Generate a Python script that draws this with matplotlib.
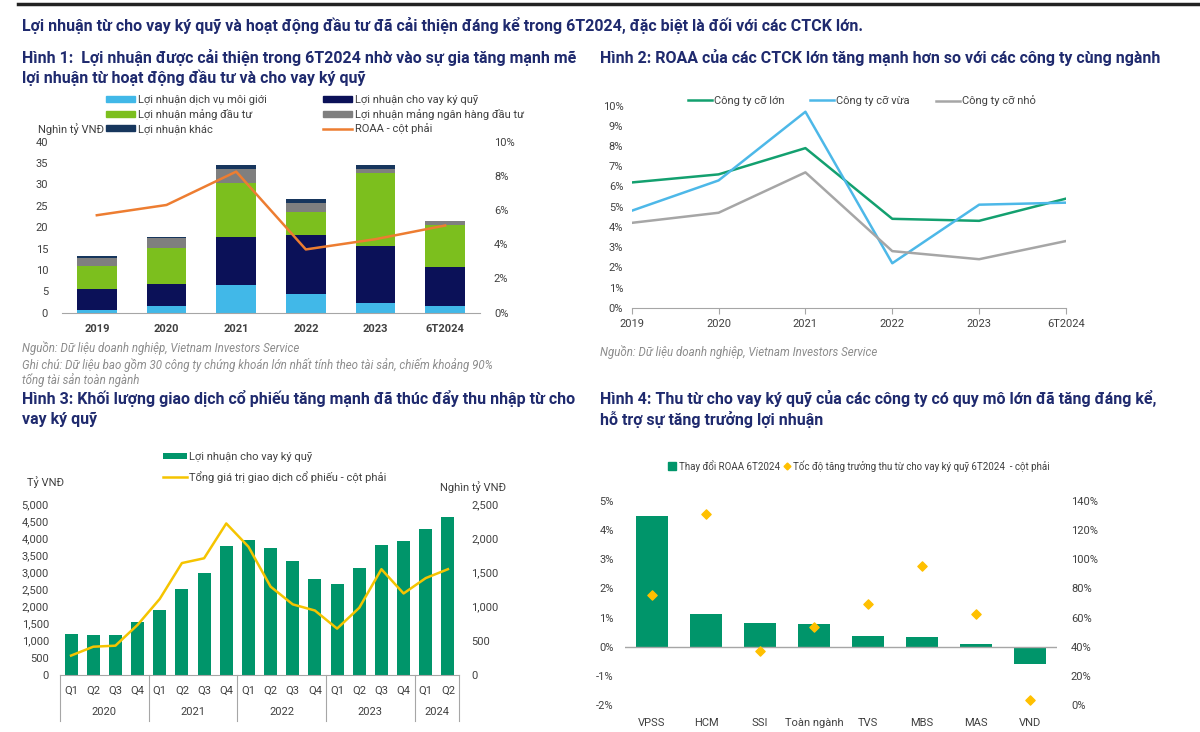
import matplotlib
matplotlib.use("Agg")
import matplotlib.pyplot as plt
from matplotlib.lines import Line2D
from matplotlib.patches import Patch
from matplotlib.ticker import FuncFormatter
import matplotlib.transforms as mtransforms

plt.rcParams['font.family'] = ['Roboto', 'DejaVu Sans']

# ---- Data ----
# Hinh 1
years1 = ['2019', '2020', '2021', '2022', '2023', '6T2024']
broker = [0.7, 1.6, 6.5, 4.4, 2.3, 1.6]
margin = [4.8, 5.0, 11.1, 13.7, 13.4, 9.0]
invest = [5.4, 8.5, 12.8, 5.4, 17.0, 9.8]
ibank = [2.0, 2.3, 3.3, 2.1, 1.0, 1.0]
other = [0.4, 0.4, 0.9, 1.1, 0.9, 0.1]
roaa = [5.7, 6.3, 8.25, 3.7, 4.3, 5.1]

# Hinh 2
years2 = ['2019', '2020', '2021', '2022', '2023', '6T2024']
roaa_large = [6.2, 6.6, 7.9, 4.4, 4.3, 5.4]
roaa_mid = [4.8, 6.3, 9.7, 2.2, 5.1, 5.2]
roaa_small = [4.2, 4.7, 6.7, 2.8, 2.4, 3.3]

# Hinh 3
quarters = ['Q1', 'Q2', 'Q3', 'Q4'] * 4 + ['Q1', 'Q2']
year_groups = [('2020', 4), ('2021', 4), ('2022', 4), ('2023', 4), ('2024', 2)]
margin_profit = [1190, 1160, 1160, 1540, 1895, 2510, 2990, 3760, 3955, 3700,
                 3320, 2790, 2655, 3135, 3810, 3915, 4275, 4620]
trade_value = [280, 410, 425, 730, 1110, 1635, 1705, 2215, 1875, 1290,
               1030, 940, 675, 980, 1545, 1190, 1415, 1545]

# Hinh 4
firms = ['VPSS', 'HCM', 'SSI', 'Toàn ngành', 'TVS', 'MBS', 'MAS', 'VND']
roaa_change = [4.49, 1.11, 0.80, 0.78, 0.37, 0.34, 0.09, -0.60]
margin_growth = [75.5, 131, 37.3, 53.5, 69.6, 95.6, 62.5, 3.2]

# ---- Styles ----
W, H = 1200, 732
NAVY_T = '#1F2A6E'
C_BROKER = '#41B8E8'
C_MARGIN = '#0B1158'
C_INVEST = '#7CBF1E'
C_IB = '#7F7F7F'
C_OTHER = '#17365D'
C_ORANGE = '#ED7D31'
C_GREEN = '#00956A'
C_GOLD = '#F5C400'
TXT = '#404040'
NOTE = '#8C8C8C'
TSIZE = 11.5

fig = plt.figure(figsize=(12, 7.32), dpi=100)


def rect(l, t, r, b):
    return [l / W, 1 - b / H, (r - l) / W, (b - t) / H]


def ftext(x, y, s, **kw):
    fig.text(x / W, 1 - y / H, s, **kw)


def clean(ax):
    for s in ax.spines.values():
        s.set_visible(False)
    ax.tick_params(length=0, labelsize=8, colors=TXT)


# top rule and headline
fig.add_artist(Line2D([0.015, 1], [1 - 4 / H, 1 - 4 / H], color='#222222', lw=2.5))
ftext(22, 25, 'Lợi nhuận từ cho vay ký quỹ và hoạt động đầu tư đã cải thiện đáng kể trong 6T2024, '
      'đặc biệt là đối với các CTCK lớn.', fontsize=11.5, fontweight='bold', color=NAVY_T, va='center')

# ---- Hinh 1 ----
ftext(22, 58, 'Hình 1:  Lợi nhuận được cải thiện trong 6T2024 nhờ vào sự gia tăng mạnh mẽ',
      fontsize=TSIZE, fontweight='bold', color=NAVY_T, va='center')
ftext(22, 78, 'lợi nhuận từ hoạt động đầu tư và cho vay ký quỹ',
      fontsize=TSIZE, fontweight='bold', color=NAVY_T, va='center')

ax1 = fig.add_axes(rect(62, 141.7, 480, 312.7))
x1 = range(len(years1))
bottom = [0] * len(years1)
for vals, col in [(broker, C_BROKER), (margin, C_MARGIN), (invest, C_INVEST),
                  (ibank, C_IB), (other, C_OTHER)]:
    ax1.bar(x1, vals, bottom=bottom, width=0.57, color=col, zorder=2)
    bottom = [b + v for b, v in zip(bottom, vals)]
ax1.set_xlim(-0.5, 5.5)
ax1.set_ylim(0, 40)
ax1.set_yticks(range(0, 41, 5))
ax1.set_xticks(list(x1))
ax1.set_xticklabels(years1, fontweight='bold')
clean(ax1)
ax1.spines['bottom'].set_visible(True)
ax1.spines['bottom'].set_color('#A6A6A6')
ax1.tick_params(axis='x', pad=8)
ax1.tick_params(axis='y', pad=10)
ax1r = ax1.twinx()
ax1r.plot(x1, roaa, color=C_ORANGE, lw=1.8, zorder=3)
ax1r.set_ylim(0, 10)
ax1r.set_yticks(range(0, 11, 2))
ax1r.yaxis.set_major_formatter(FuncFormatter(lambda v, _: f'{v:.0f}%'))
clean(ax1r)
ax1r.tick_params(axis='y', pad=10)

leg_items = [
    (105, 100, Patch(color=C_BROKER), 'Lợi nhuận dịch vụ môi giới'),
    (322, 100, Patch(color=C_MARGIN), 'Lợi nhuận cho vay ký quỹ'),
    (105, 114.5, Patch(color=C_INVEST), 'Lợi nhuận mảng đầu tư'),
    (322, 114.5, Patch(color=C_IB), 'Lợi nhuận mảng ngân hàng đầu tư'),
    (105, 129, Patch(color=C_OTHER), 'Lợi nhuận khác'),
    (322, 129, Line2D([], [], color=C_ORANGE, lw=1.8), 'ROAA - cột phải'),
]
for lx, ly, h, lab in leg_items:
    fig.legend([h], [lab], loc='center left', bbox_to_anchor=(lx / W - 0.004, 1 - ly / H),
               frameon=False, fontsize=8, handlelength=2.6, handleheight=0.55,
               borderpad=0, handletextpad=0.3, labelcolor=TXT)
ftext(38, 129, 'Nghìn tỷ VNĐ', fontsize=8, color=TXT, va='center')

ftext(22, 348, 'Nguồn: Dữ liệu doanh nghiệp, Vietnam Investors Service',
      fontsize=8.3, style='italic', color=NOTE, va='center')
ftext(22, 365, 'Ghi chú: Dữ liệu bao gồm 30 công ty chứng khoán lớn nhất tính theo tài sản, chiếm khoảng 90%',
      fontsize=8.3, style='italic', color=NOTE, va='center')
ftext(22, 380, 'tổng tài sản toàn ngành', fontsize=8.3, style='italic', color=NOTE, va='center')

# ---- Hinh 2 ----
ftext(600, 57, 'Hình 2: ROAA của các CTCK lớn tăng mạnh hơn so với các công ty cùng ngành',
      fontsize=TSIZE, fontweight='bold', color=NAVY_T, va='center')
ax2 = fig.add_axes(rect(631.7, 105.7, 1066, 307.7))
x2 = range(len(years2))
l1, = ax2.plot(x2, roaa_large, color='#13A06F', lw=1.8)
l2, = ax2.plot(x2, roaa_mid, color='#4DB8E8', lw=1.8)
l3, = ax2.plot(x2, roaa_small, color='#A6A6A6', lw=1.8)
ax2.set_xlim(0, 5)
ax2.set_ylim(0, 10)
ax2.set_yticks(range(0, 11))
ax2.yaxis.set_major_formatter(FuncFormatter(lambda v, _: f'{v:.0f}%'))
ax2.set_xticks(list(x2))
ax2.set_xticklabels(years2)
clean(ax2)
ax2.spines['bottom'].set_visible(True)
ax2.spines['bottom'].set_color('#A6A6A6')
ax2.tick_params(axis='x', length=4, color='#A6A6A6', pad=4)
ax2.tick_params(axis='y', pad=6)
for lx, h, lab in [(687, l1, 'Công ty cỡ lớn'), (809, l2, 'Công ty cỡ vừa'), (935, l3, 'Công ty cỡ nhỏ')]:
    fig.legend([h], [lab], loc='center left', bbox_to_anchor=(lx / W - 0.004, 1 - 101 / H),
               frameon=False, fontsize=8, handlelength=2.2, borderpad=0,
               handletextpad=0.2, labelcolor=TXT)
ftext(600, 352, 'Nguồn: Dữ liệu doanh nghiệp, Vietnam Investors Service',
      fontsize=8.3, style='italic', color=NOTE, va='center')

# ---- Hinh 3 ----
ftext(22, 398, 'Hình 3: Khối lượng giao dịch cổ phiếu tăng mạnh đã thúc đẩy thu nhập từ cho',
      fontsize=TSIZE, fontweight='bold', color=NAVY_T, va='center')
ftext(22, 419, 'vay ký quỹ', fontsize=TSIZE, fontweight='bold', color=NAVY_T, va='center')
ax3 = fig.add_axes(rect(60, 504, 459, 674.7))
x3 = range(len(quarters))
b3 = ax3.bar(x3, margin_profit, width=0.59, color=C_GREEN, zorder=2)
ax3.set_xlim(-0.5, len(quarters) - 0.5)
ax3.set_ylim(0, 5000)
ax3.set_yticks(range(0, 5001, 500))
ax3.yaxis.set_major_formatter(FuncFormatter(lambda v, _: f'{v:,.0f}'))
ax3.set_xticks([])
clean(ax3)
ax3.spines['bottom'].set_visible(True)
ax3.spines['bottom'].set_color('#A6A6A6')
ax3.tick_params(axis='y', pad=8)
ax3r = ax3.twinx()
l3r, = ax3r.plot(x3, trade_value, color=C_GOLD, lw=1.8)
ax3r.set_ylim(0, 2500)
ax3r.set_yticks(range(0, 2501, 500))
ax3r.yaxis.set_major_formatter(FuncFormatter(lambda v, _: f'{v:,.0f}'))
clean(ax3r)
ax3r.tick_params(axis='y', pad=9)
tr = mtransforms.blended_transform_factory(ax3.transData, ax3.transAxes)
for i, q in enumerate(quarters):
    ax3.text(i, -0.095, q, transform=tr, ha='center', va='center', fontsize=8, color=TXT)
pos = -0.5
ax3.plot([pos, pos], [0, -0.27], transform=tr, color='#A6A6A6', lw=0.8, clip_on=False)
for yr, n in year_groups:
    ax3.text(pos + n / 2, -0.22, yr, transform=tr, ha='center', va='center', fontsize=8, color=TXT)
    pos += n
    ax3.plot([pos, pos], [0, -0.27], transform=tr, color='#A6A6A6', lw=0.8, clip_on=False)
fig.legend([b3], ['Lợi nhuận cho vay ký quỹ'], loc='center left',
           bbox_to_anchor=(157 / W, 1 - 457 / H), frameon=False, fontsize=8,
           handlelength=2.2, handleheight=0.55, borderpad=0, handletextpad=0.2, labelcolor=TXT)
fig.legend([l3r], ['Tổng giá trị giao dịch cổ phiếu - cột phải'], loc='center left',
           bbox_to_anchor=(157 / W, 1 - 477 / H), frameon=False, fontsize=8,
           handlelength=2.2, borderpad=0, handletextpad=0.2, labelcolor=TXT)
ftext(27, 482, 'Tỷ VNĐ', fontsize=8, color=TXT, va='center')
ftext(440, 487, 'Nghìn tỷ VNĐ', fontsize=8, color=TXT, va='center')

# ---- Hinh 4 ----
ftext(600, 398, 'Hình 4: Thu từ cho vay ký quỹ của các công ty có quy mô lớn đã tăng đáng kể,',
      fontsize=TSIZE, fontweight='bold', color=NAVY_T, va='center')
ftext(600, 419, 'hỗ trợ sự tăng trưởng lợi nhuận', fontsize=TSIZE, fontweight='bold', color=NAVY_T, va='center')
ax4 = fig.add_axes(rect(625, 501, 1057, 705))
x4 = range(len(firms))
ax4.bar(x4, roaa_change, width=0.58, color=C_GREEN, zorder=2)
ax4.axhline(0, color='#A6A6A6', lw=1, zorder=3)
ax4.set_xlim(-0.5, len(firms) - 0.5)
ax4.set_ylim(-2, 5)
ax4.set_yticks(range(-2, 6))
ax4.yaxis.set_major_formatter(FuncFormatter(lambda v, _: f'{v:.0f}%'))
ax4.set_xticks(list(x4))
ax4.set_xticklabels(firms)
clean(ax4)
ax4.tick_params(axis='x', pad=9)
ax4.tick_params(axis='y', pad=8)
ax4r = ax4.twinx()
ax4r.scatter(x4, margin_growth, marker='D', s=22, color='#FFC000', zorder=4)
ax4r.set_ylim(0, 140)
ax4r.set_yticks(range(0, 141, 20))
ax4r.yaxis.set_major_formatter(FuncFormatter(lambda v, _: f'{v:.0f}%'))
clean(ax4r)
ax4r.tick_params(axis='y', pad=10)
fig.legend([Line2D([], [], marker='s', ls='', color=C_GREEN, markersize=5.5),
            Line2D([], [], marker='D', ls='', color='#FFC000', markersize=3.5)],
           ['Thay đổi ROAA 6T2024', 'Tốc độ tăng trưởng thu từ cho vay ký quỹ 6T2024  - cột phải'],
           loc='center left', bbox_to_anchor=(664 / W, 1 - 465.7 / H), ncol=2, frameon=False,
           fontsize=7, handlelength=0.7, borderpad=0, handletextpad=0.3,
           columnspacing=0.4, labelcolor=TXT)

fig.savefig('out.png', dpi=100)
